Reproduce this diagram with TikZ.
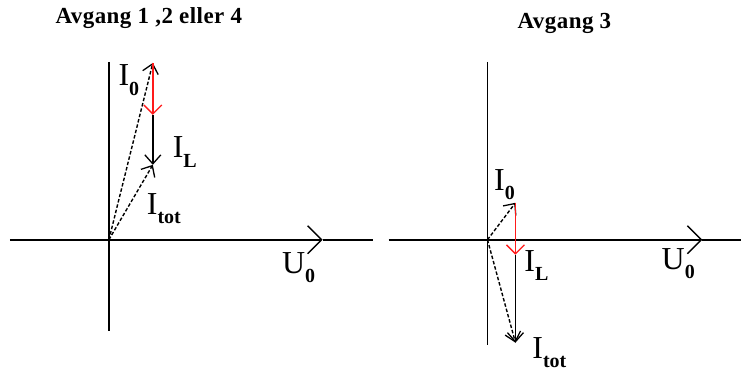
\documentclass[tikz,border=0pt]{standalone}
\usepackage{fontspec}
\setmainfont{Liberation Serif}
\newfontfamily\titlefont[LetterSpace=2]{Liberation Serif}
\usetikzlibrary{arrows.meta}
\definecolor{phasered}{HTML}{FF1A1A}

% current label: I with bold subscript
\newcommand{\curlbl}[1]{I\raisebox{-0.3em}{\fontsize{20}{20}\selectfont\bfseries #1}}

\begin{document}
\begin{tikzpicture}[x=1pt,y=-1pt,
    axisline/.style={line width=1.6pt},
    axisarrow/.style={line width=1.6pt,-{Straight Barb[length=14pt,width=28pt,line width=1.4pt]}},
    vecdash/.style={line width=1.4pt,dash pattern=on 3.5pt off 2pt,-{Straight Barb[length=9pt,width=16pt,line width=1.3pt]}},
    vecline/.style={line width=1.4pt,-{Straight Barb[length=9pt,width=16pt,line width=1.3pt]}},
    vecred/.style={phasered,line width=1.4pt,-{Straight Barb[length=9pt,width=18pt,line width=1.3pt]}},
    lbl/.style={font=\fontsize{32}{32}\selectfont,inner sep=0pt},
    ttl/.style={font=\fontsize{23}{23}\titlefont\bfseries,inner sep=0pt}]
  \fill[white] (0,0) rectangle (742,372);

  % Avgang 1,2 eller 4
  \node[ttl] (t1) at (149,18) {Avgang 1 ,2 eller 4};
  \coordinate (o1) at (109,240);
  \coordinate (xl1) at (10,240);
  \coordinate (xa1) at (323,240);
  \coordinate (xr1) at (373,240);
  \coordinate (yt1) at (109,62);
  \coordinate (yb1) at (109,331);
  \coordinate (a1) at (153,63);
  \coordinate (m1) at (153,115);
  \coordinate (b1) at (153,165);
  \draw[axisarrow] (xl1) -- (xa1);
  \draw[axisline] (xa1) -- (xr1);
  \draw[axisline] (yt1) -- (yb1);
  \draw[vecdash] (o1) -- (a1);
  \draw[vecdash] (o1) -- (b1);
  \draw[vecred] (a1) -- (m1);
  \draw[vecline] (m1) -- (b1);
  \node[lbl] (i01) at (129,80) {\curlbl{0}};
  \node[lbl] (il1) at (185,152) {\curlbl{L}};
  \node[lbl] (it1) at (164,209) {\curlbl{tot}};
  \node[lbl] (u1) at (299,268) {U\raisebox{-0.3em}{\fontsize{20}{20}\selectfont\bfseries 0}};

  % Avgang 3
  \node[ttl] (t2) at (565,23) {Avgang 3};
  \coordinate (o2) at (488,240);
  \coordinate (xl2) at (389,240);
  \coordinate (xa2) at (703,240);
  \coordinate (xr2) at (742,240);
  \coordinate (yt2) at (488,62);
  \coordinate (yb2) at (488,345);
  \coordinate (a2) at (516,203);
  \coordinate (m2) at (516,255);
  \coordinate (b2) at (516,343);
  \draw[axisarrow] (xl2) -- (xa2);
  \draw[axisline] (xa2) -- (xr2);
  \draw[axisline] (yt2) -- (yb2);
  \draw[vecdash] (o2) -- (a2);
  \draw[vecdash] (o2) -- (b2);
  \draw[vecred] (a2) -- (m2);
  \draw[vecline] (m2) -- (b2);
  \node[lbl] (i02) at (505,185) {\curlbl{0}};
  \node[lbl] (il2) at (537,266) {\curlbl{L}};
  \node[lbl] (it2) at (550,353) {\curlbl{tot}};
  \node[lbl] (u2) at (679,264) {U\raisebox{-0.3em}{\fontsize{20}{20}\selectfont\bfseries 0}};
\end{tikzpicture}
\end{document}
